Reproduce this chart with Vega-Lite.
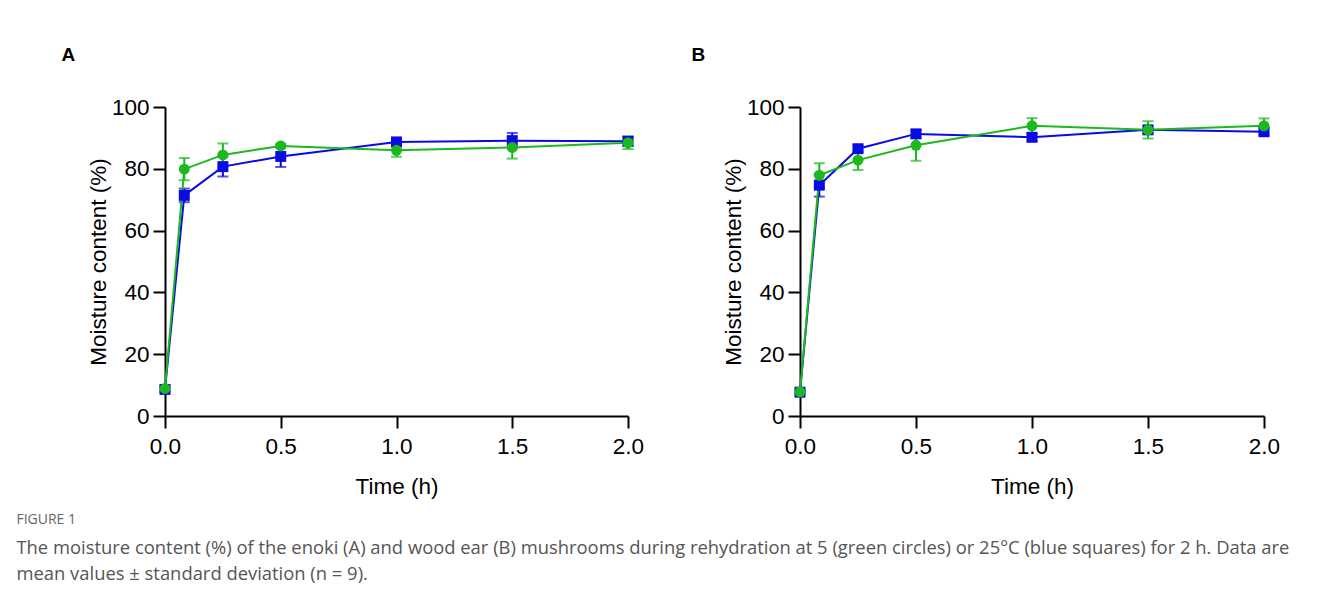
{
  "$schema": "https://vega.github.io/schema/vega-lite/v6.json",
  "background": "white",
  "padding": {"left": 16, "top": 46, "right": 5, "bottom": 5},
  "config": {
    "font": "Liberation Sans",
    "view": {"stroke": null},
    "axis": {
      "grid": false,
      "domainColor": "black",
      "domainWidth": 2,
      "tickColor": "black",
      "tickWidth": 2,
      "tickSize": 12,
      "labelFontSize": 22.5,
      "titleFontSize": 22.5,
      "labelColor": "black",
      "titleColor": "black",
      "titleFontWeight": "normal",
      "labelFlush": false
    },
    "axisX": {"labelPadding": 7, "titlePadding": 18},
    "axisY": {"labelPadding": 4, "titlePadding": 1},
    "title": {"font": "Liberation Sans"}
  },
  "title": {
    "text": "FIGURE 1",
    "subtitle": [
      "The moisture content (%) of the enoki (A) and wood ear (B) mushrooms during rehydration at 5 (green circles) or 25°C (blue squares) for 2 h. Data are",
      "mean values ± standard deviation (n = 9)."
    ],
    "orient": "bottom",
    "anchor": "start",
    "frame": "bounds",
    "dx": -45,
    "offset": 15,
    "font": "Open Sans",
    "fontSize": 14,
    "fontWeight": "normal",
    "color": "#666666",
    "subtitleFont": "Open Sans",
    "subtitleFontSize": 18.4,
    "subtitleColor": "#555555",
    "subtitleLineHeight": 26,
    "subtitlePadding": 12
  },
  "datasets": {
    "moisture": [
      {"panel": "A", "series": "25 °C", "time": 0, "mean": 8.6, "sd": 0.8},
      {"panel": "A", "series": "25 °C", "time": 0.0833, "mean": 71.4, "sd": 2.2},
      {"panel": "A", "series": "25 °C", "time": 0.25, "mean": 80.7, "sd": 3.2},
      {"panel": "A", "series": "25 °C", "time": 0.5, "mean": 84.0, "sd": 3.4},
      {"panel": "A", "series": "25 °C", "time": 1.0, "mean": 88.7, "sd": 1.0},
      {"panel": "A", "series": "25 °C", "time": 1.5, "mean": 89.1, "sd": 2.5},
      {"panel": "A", "series": "25 °C", "time": 2.0, "mean": 88.9, "sd": 1.5},
      {"panel": "A", "series": "5 °C", "time": 0, "mean": 8.9, "sd": 0.8},
      {"panel": "A", "series": "5 °C", "time": 0.0833, "mean": 79.9, "sd": 3.6},
      {"panel": "A", "series": "5 °C", "time": 0.25, "mean": 84.5, "sd": 3.7},
      {"panel": "A", "series": "5 °C", "time": 0.5, "mean": 87.4, "sd": 0.6},
      {"panel": "A", "series": "5 °C", "time": 1.0, "mean": 86.0, "sd": 2.1},
      {"panel": "A", "series": "5 °C", "time": 1.5, "mean": 86.9, "sd": 3.6},
      {"panel": "A", "series": "5 °C", "time": 2.0, "mean": 88.4, "sd": 2.0},
      {"panel": "B", "series": "25 °C", "time": 0, "mean": 7.7, "sd": 0.6},
      {"panel": "B", "series": "25 °C", "time": 0.0833, "mean": 74.7, "sd": 3.7},
      {"panel": "B", "series": "25 °C", "time": 0.25, "mean": 86.5, "sd": 1.0},
      {"panel": "B", "series": "25 °C", "time": 0.5, "mean": 91.3, "sd": 1.2},
      {"panel": "B", "series": "25 °C", "time": 1.0, "mean": 90.2, "sd": 1.2},
      {"panel": "B", "series": "25 °C", "time": 1.5, "mean": 92.6, "sd": 1.0},
      {"panel": "B", "series": "25 °C", "time": 2.0, "mean": 92.0, "sd": 1.2},
      {"panel": "B", "series": "5 °C", "time": 0, "mean": 7.8, "sd": 0.6},
      {"panel": "B", "series": "5 °C", "time": 0.0833, "mean": 77.9, "sd": 3.9},
      {"panel": "B", "series": "5 °C", "time": 0.25, "mean": 82.8, "sd": 3.2},
      {"panel": "B", "series": "5 °C", "time": 0.5, "mean": 87.6, "sd": 5.0},
      {"panel": "B", "series": "5 °C", "time": 1.0, "mean": 93.9, "sd": 2.5},
      {"panel": "B", "series": "5 °C", "time": 1.5, "mean": 92.6, "sd": 2.8},
      {"panel": "B", "series": "5 °C", "time": 2.0, "mean": 93.9, "sd": 2.4}
    ]
  },
  "spacing": 47,
  "hconcat": [
    {
      "title": {"text": "A", "anchor": "start", "frame": "bounds", "dx": -26, "offset": 31, "fontSize": 19, "fontWeight": "bold", "color": "black"},
      "width": 463,
      "height": 309,
      "data": {"name": "moisture"},
      "transform": [{"filter": "datum.panel === 'A'"}],
      "encoding": {
        "x": {"field": "time", "type": "quantitative", "title": "Time (h)", "scale": {"domain": [0, 2], "nice": false}, "axis": {"values": [0, 0.5, 1, 1.5, 2], "format": ".1f"}},
        "color": {"field": "series", "type": "nominal", "scale": {"domain": ["25 °C", "5 °C"], "range": ["#0a0ae6", "#1db81d"]}, "legend": null}
      },
      "layer": [
        {
          "mark": {"type": "errorbar", "ticks": {"size": 11, "thickness": 2}, "rule": {"strokeWidth": 2}},
          "encoding": {
            "y": {"field": "mean", "type": "quantitative", "title": "Moisture content (%)", "scale": {"domain": [0, 100], "nice": false}, "axis": {"values": [0, 20, 40, 60, 80, 100]}},
            "yError": {"field": "sd"}
          }
        },
        {
          "mark": {"type": "line", "strokeWidth": 2},
          "encoding": {"y": {"field": "mean", "type": "quantitative"}}
        },
        {
          "mark": {"type": "point", "filled": true, "size": 120, "opacity": 1},
          "encoding": {
            "y": {"field": "mean", "type": "quantitative"},
            "shape": {"field": "series", "type": "nominal", "scale": {"domain": ["25 °C", "5 °C"], "range": ["square", "circle"]}, "legend": null},
            "order": {"field": "series", "sort": "ascending"}
          }
        }
      ]
    },
    {
      "title": {"text": "B", "anchor": "start", "frame": "bounds", "dx": -31, "offset": 31, "fontSize": 19, "fontWeight": "bold", "color": "black"},
      "width": 464,
      "height": 309,
      "data": {"name": "moisture"},
      "transform": [{"filter": "datum.panel === 'B'"}],
      "encoding": {
        "x": {"field": "time", "type": "quantitative", "title": "Time (h)", "scale": {"domain": [0, 2], "nice": false}, "axis": {"values": [0, 0.5, 1, 1.5, 2], "format": ".1f"}},
        "color": {"field": "series", "type": "nominal", "scale": {"domain": ["25 °C", "5 °C"], "range": ["#0a0ae6", "#1db81d"]}, "legend": null}
      },
      "layer": [
        {
          "mark": {"type": "errorbar", "ticks": {"size": 11, "thickness": 2}, "rule": {"strokeWidth": 2}},
          "encoding": {
            "y": {"field": "mean", "type": "quantitative", "title": "Moisture content (%)", "scale": {"domain": [0, 100], "nice": false}, "axis": {"values": [0, 20, 40, 60, 80, 100]}},
            "yError": {"field": "sd"}
          }
        },
        {
          "mark": {"type": "line", "strokeWidth": 2},
          "encoding": {"y": {"field": "mean", "type": "quantitative"}}
        },
        {
          "mark": {"type": "point", "filled": true, "size": 120, "opacity": 1},
          "encoding": {
            "y": {"field": "mean", "type": "quantitative"},
            "shape": {"field": "series", "type": "nominal", "scale": {"domain": ["25 °C", "5 °C"], "range": ["square", "circle"]}, "legend": null},
            "order": {"field": "series", "sort": "ascending"}
          }
        }
      ]
    }
  ]
}
